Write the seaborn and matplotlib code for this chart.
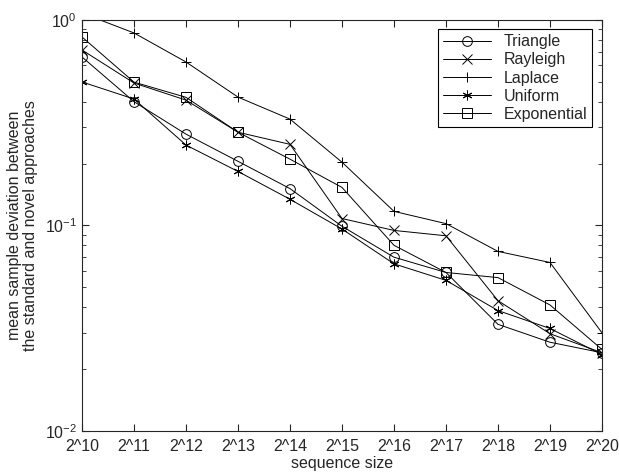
import numpy as np
import pandas as pd
import matplotlib
matplotlib.use("Agg")
import matplotlib.pyplot as plt
import seaborn as sns

# Data
exponents = list(range(10, 21))
tick_labels = [f"2^{e}" for e in exponents]
triangle = [0.66, 0.40, 0.278, 0.205, 0.151, 0.099, 0.070, 0.059, 0.033, 0.027, 0.024]
rayleigh = [0.714, 0.493, 0.407, 0.284, 0.248, 0.108, 0.0945, 0.089, 0.043, 0.0297, 0.024]
laplace = [1.08, 0.864, 0.624, 0.421, 0.329, 0.203, 0.117, 0.102, 0.0747, 0.066, 0.030]
uniform = [0.499, 0.412, 0.246, 0.183, 0.134, 0.096, 0.065, 0.054, 0.0385, 0.0315, 0.0235]
exponential = [0.826, 0.498, 0.42, 0.284, 0.21, 0.153, 0.080, 0.059, 0.0557, 0.041, 0.0249]

series = {
    "Triangle": triangle,
    "Rayleigh": rayleigh,
    "Laplace": laplace,
    "Uniform": uniform,
    "Exponential": exponential,
}
markers = {
    "Triangle": "o",
    "Rayleigh": "x",
    "Laplace": "+",
    "Uniform": (6, 2, 0),
    "Exponential": "s",
}

df = pd.concat(
    [pd.DataFrame({"size": exponents, "dev": v, "dist": k}) for k, v in series.items()],
    ignore_index=True,
)

sns.set_style("ticks")
plt.rcParams["font.family"] = ["Liberation Sans", "DejaVu Sans"]
plt.rcParams["mathtext.fontset"] = "custom"
plt.rcParams["mathtext.rm"] = "Liberation Sans"

fs = 11.5
fig = plt.figure(figsize=(6.19, 4.74), dpi=100)
ax = fig.add_axes([0.1325, 0.091, 0.84, 0.867])

for name in series:
    sub = df[df["dist"] == name]
    sns.lineplot(
        data=sub, x="size", y="dev", ax=ax, color="black", lw=0.7,
        marker=markers[name], markersize=7, markerfacecolor="none",
        markeredgecolor="black", markeredgewidth=0.7, label=name,
    )

ax.set_yscale("log")
ax.set_ylim(1e-2, 1)
ax.set_xlim(10, 20)
ax.set_xticks(exponents)
ax.set_xticklabels(tick_labels)
ax.tick_params(which="both", direction="in", top=True, right=True, labelsize=fs)
ax.tick_params(which="major", length=5)
ax.tick_params(which="minor", length=3)
ax.tick_params(axis="x", pad=6)
for s in ax.spines.values():
    s.set_visible(True)
    s.set_linewidth(0.8)
ax.set_xlabel("sequence size", fontsize=fs, labelpad=1)
ax.set_ylabel("mean sample deviation between\nthe standard and novel approaches",
              fontsize=fs, labelpad=5, linespacing=1.1)

leg = ax.legend(loc="upper right", fontsize=fs, fancybox=False, edgecolor="black",
                framealpha=1, handlelength=3, borderaxespad=0.6, labelspacing=0.2,
                borderpad=0.3)
leg.get_frame().set_linewidth(0.8)

fig.savefig("out.png", dpi=100)
